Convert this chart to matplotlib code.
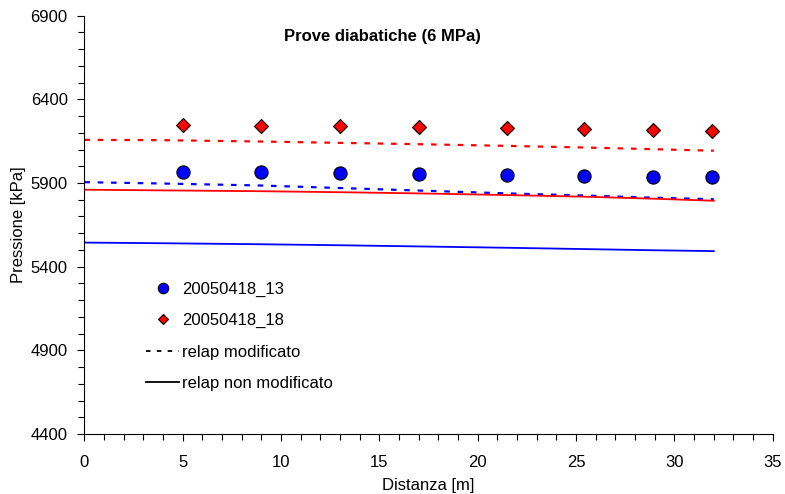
import matplotlib.pyplot as plt
from matplotlib.ticker import MultipleLocator

plt.rcParams['font.family'] = ['Liberation Sans', 'DejaVu Sans']

# measured points
dist_exp = [5, 9, 13, 17, 21.5, 25.4, 28.9, 31.9]
p_13 = [5967, 5963, 5961, 5955, 5949, 5943, 5937, 5933]
p_18 = [6244, 6242, 6238, 6232, 6228, 6220, 6216, 6212]

# relap results
dist_relap = [0, 4, 9, 13, 17, 21.5, 25.5, 29, 32]
mod_13 = [5905, 5897, 5885, 5870, 5855, 5838, 5825, 5812, 5803]
mod_18 = [6158, 6156, 6148, 6140, 6132, 6122, 6112, 6102, 6093]
nonmod_13 = [5544, 5540, 5534, 5528, 5521, 5513, 5505, 5498, 5493]
nonmod_18 = [5860, 5856, 5851, 5845, 5838, 5828, 5818, 5806, 5794]

yticks = [4400, 4900, 5400, 5900, 6400, 6900]

fig = plt.figure(figsize=(7.85, 4.94), dpi=100)
ax = fig.add_axes([0.1075, 0.1215, 0.877, 0.8467])

dash = (0, (2.5, 3.5))
ax.plot(dist_relap, mod_18, color='red', lw=1.6, linestyle=dash)
ax.plot(dist_relap, mod_13, color='blue', lw=1.6, linestyle=dash)
ax.plot(dist_relap, nonmod_18, color='red', lw=1.3)
ax.plot(dist_relap, nonmod_13, color='blue', lw=1.3)

ax.plot(dist_exp, p_13, 'o', color='blue', mec='black', mew=0.8, ms=9.5, linestyle='none')
ax.plot(dist_exp, p_18, 'D', color='red', mec='black', mew=0.8, ms=7.5, linestyle='none')

# legend handles (excel style, black lines)
h1, = ax.plot([], [], 'o', color='blue', mec='black', mew=0.8, ms=7.5, linestyle='none')
h2, = ax.plot([], [], 'D', color='red', mec='black', mew=0.8, ms=5.5, linestyle='none')
h3, = ax.plot([], [], color='black', lw=1.3, linestyle=(0, (2.5, 3.5)))
h4, = ax.plot([], [], color='black', lw=1.3)
ax.legend([h1, h2, h3, h4],
          ['20050418_13', '20050418_18', 'relap modificato', 'relap non modificato'],
          loc='upper left', bbox_to_anchor=(0.08, 0.38), frameon=False,
          fontsize=12, handlelength=2.0, handletextpad=0.15, labelspacing=0.98,
          borderaxespad=0)

ax.set_xlim(0, 35)
ax.set_ylim(4400, 6900)
ax.xaxis.set_major_locator(MultipleLocator(5))
ax.xaxis.set_minor_locator(MultipleLocator(1))
ax.set_yticks(yticks)
ax.yaxis.set_minor_locator(MultipleLocator(100))
ax.tick_params(which='both', direction='out', labelsize=12, width=0.8)
ax.tick_params(which='major', length=5)
ax.tick_params(which='minor', length=4)
ax.tick_params(axis='x', pad=10)
ax.tick_params(axis='y', pad=7)

ax.spines['top'].set_visible(False)
ax.spines['right'].set_visible(False)

ax.set_xlabel('Distanza [m]', fontsize=12, labelpad=6)
ax.set_ylabel('Pressione [kPa]', fontsize=12, labelpad=3)
ax.text(0.433, 0.95, 'Prove diabatiche (6 MPa)', transform=ax.transAxes,
        ha='center', va='center', fontsize=12, fontweight='bold')

fig.savefig('out.png', dpi=100)
